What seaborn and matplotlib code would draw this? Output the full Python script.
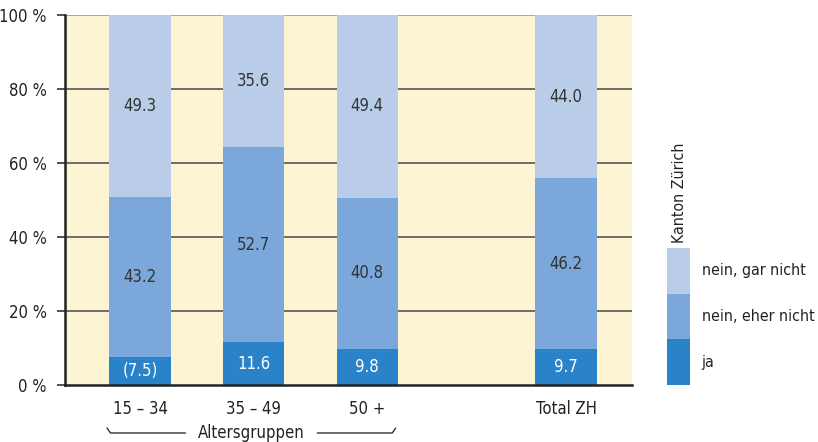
import matplotlib
matplotlib.use("Agg")
import matplotlib.pyplot as plt
import seaborn as sns
import numpy as np
import pandas as pd
from matplotlib.patches import Rectangle
from matplotlib.transforms import blended_transform_factory
from matplotlib import font_manager

categories = ["15 – 34", "35 – 49", "50 +", "Total ZH"]
positions = [0, 1, 2, 3.75]
ja = [7.5, 11.6, 9.8, 9.7]
eher_nicht = [43.2, 52.7, 40.8, 46.2]
gar_nicht = [49.3, 35.6, 49.4, 44.0]
ja_labels = ["(7.5)", "11.6", "9.8", "9.7"]
series_names = ["ja", "nein, eher nicht", "nein, gar nicht"]
colors = ["#2a83c8", "#7ba7da", "#b9cde9"]
yticks = [0, 20, 40, 60, 80, 100]
ytick_labels = ["0 %", "20 %", "40 %", "60 %", "80 %", "100 %"]

sns.set_style("white")
cond = [f for f in font_manager.fontManager.ttflist if "Condensed" in f.fname or f.stretch in ("condensed", "semi-condensed", 500, 300)]
if cond:
    plt.rcParams["font.family"] = [cond[0].name, "DejaVu Sans"]
    plt.rcParams["font.stretch"] = "condensed"
    FS = 12
else:
    plt.rcParams["font.family"] = ["DejaVu Sans"]
    FS = 10.5
LFS = FS - 0.6

fig = plt.figure(figsize=(8.18, 4.42), dpi=100)
ax = fig.add_axes([65/818, 57/442, (632-65)/818, (385-15)/442])
ax.set_facecolor("#fdf4d3")

df = pd.DataFrame({"pos": positions, "ja": ja, "eher": eher_nicht, "gar": gar_nicht})
width = 0.54
bottoms = np.zeros(len(df))
for col, c in zip(["ja", "eher", "gar"], colors):
    ax.bar(df["pos"], df[col], bottom=bottoms, width=width, color=c, zorder=3, linewidth=0)
    bottoms = bottoms + df[col].values

b = np.zeros(len(df))
for k, (col, tcol) in enumerate(zip(["ja", "eher", "gar"], ["white", "#333333", "#333333"])):
    for i in range(len(df)):
        v = df[col].iloc[i]
        lab = ja_labels[i] if col == "ja" else f"{v:.1f}"
        ax.text(df["pos"].iloc[i], b[i] + v/2, lab, ha="center", va="center",
                color=tcol, fontsize=FS, zorder=4)
    b = b + df[col].values

ax.set_xlim(-0.66, 4.33)
ax.set_ylim(0, 100)
for y in yticks[1:]:
    ax.axhline(y, color="#999999" if y == 100 else "#555555", lw=1.2, zorder=1)
ax.set_yticks(yticks)
ax.set_yticklabels(ytick_labels, fontsize=FS, color="#222222")
ax.set_xticks(positions)
ax.set_xticklabels(categories, fontsize=FS, color="#222222")
ax.tick_params(axis="y", length=6, width=1.2, color="#333333", pad=7, direction="out", left=True)
ax.tick_params(axis="x", length=0, pad=11)
for s in ["top", "right"]:
    ax.spines[s].set_visible(False)
for s in ["left", "bottom"]:
    ax.spines[s].set_linewidth(1.8)
    ax.spines[s].set_color("#222222")
    ax.spines[s].set_zorder(5)

tr = blended_transform_factory(ax.transData, fig.transFigure)
x0 = positions[0] - width/2 - 0.02
x1 = positions[2] + width/2 - 0.02
ymid = 1 - 433/442
ytop = 1 - 428/442
xm = (x0 + x1) / 2
ax.text(xm, ymid, "Altersgruppen", transform=tr, ha="center", va="center", fontsize=FS, color="#222222")
gap = 0.58
ax.plot([x0, x0 + 0.03, xm - gap], [ytop, ymid, ymid], transform=tr, color="#333333", lw=1, clip_on=False)
ax.plot([xm + gap, x1 - 0.03, x1], [ymid, ymid, ytop], transform=tr, color="#333333", lw=1, clip_on=False)

lax = fig.add_axes([667/818, 57/442, 23/818, (385-248)/442])
lax.set_xlim(0, 1)
lax.set_ylim(0, 3)
lax.axis("off")
for k, (name, c) in enumerate(zip(series_names, colors)):
    lax.add_patch(Rectangle((0, k), 1, 1, color=c, lw=0))
    lax.text(1.5, k + 0.5, name, ha="left", va="center", fontsize=LFS, color="#222222")
fig.text(680/818, 1 - 193/442, "Kanton Zürich", rotation=90, ha="center", va="center", fontsize=LFS, color="#222222")

fig.savefig("out.png", dpi=100)
